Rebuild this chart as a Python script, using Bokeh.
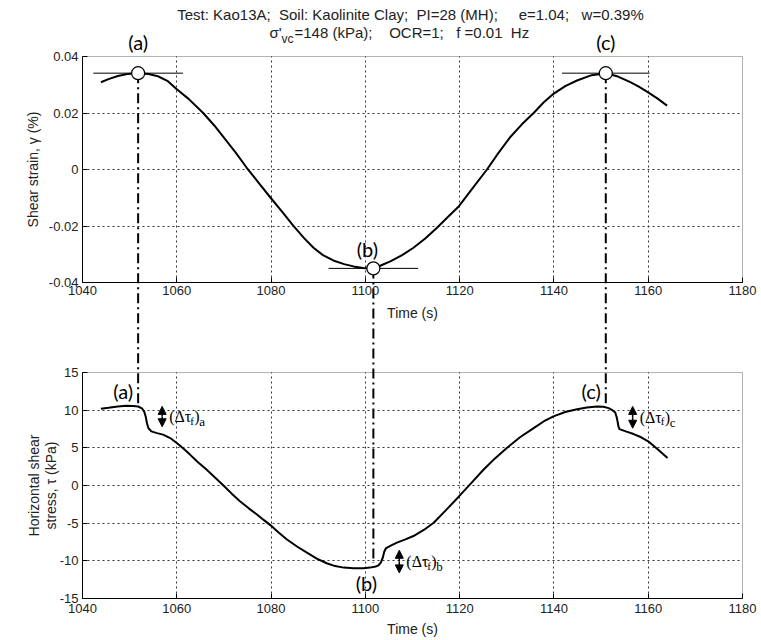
import math
from bokeh.plotting import figure
from bokeh.models import (Range1d, LinearAxis, FixedTicker, Grid, BoxAnnotation, Label,
                          Arrow, NormalHead)
from bokeh.embed import file_html
from bokeh.resources import INLINE

# ---------------- data ----------------
strain_time = [1043.9, 1045.5, 1047.5, 1049.5, 1051.8, 1054.0, 1056.0, 1058.0, 1060.0, 1062.5,
               1065.6, 1068.0, 1070.0, 1072.5, 1074.8, 1077.5, 1079.9, 1082.5, 1084.7, 1087.0,
               1089.0, 1091.0, 1093.2, 1095.5, 1097.5, 1099.5, 1101.7, 1103.5, 1105.3, 1107.8,
               1110.2, 1112.7, 1115.2, 1117.5, 1119.9, 1122.8, 1125.8, 1128.2, 1130.7, 1133.2,
               1135.7, 1137.8, 1139.9, 1142.4, 1144.9, 1148.0, 1151.0, 1153.6, 1156.2, 1158.0,
               1159.9, 1162.0, 1164.0]
strain_pct = [0.0309, 0.0320, 0.0331, 0.0338, 0.0341, 0.0338, 0.0330, 0.0314, 0.0284, 0.0250,
              0.0200, 0.0155, 0.0113, 0.0060, 0.0007, -0.0050, -0.0100, -0.0153, -0.0199, -0.0243,
              -0.0277, -0.0303, -0.0322, -0.0335, -0.0343, -0.0349, -0.0352, -0.0338, -0.0325, -0.0303,
              -0.0277, -0.0244, -0.0206, -0.0168, -0.0129, -0.0065, 0.0000, 0.0058, 0.0114, 0.0160,
              0.0200, 0.0237, 0.0268, 0.0295, 0.0315, 0.0334, 0.0341, 0.0329, 0.0309, 0.0293,
              0.0274, 0.0251, 0.0226]

stress_time = [1043.9, 1045.5, 1047.5, 1049.3, 1050.8, 1051.8, 1052.6, 1053.1, 1053.4, 1053.7,
               1054.0, 1054.6, 1055.8, 1057.1, 1058.6, 1060.0, 1061.4, 1062.8, 1064.5, 1066.3,
               1068.1, 1069.9, 1071.6, 1073.4, 1075.2, 1077.0, 1078.5, 1079.9, 1081.6, 1083.3,
               1085.5, 1087.6, 1089.7, 1091.8, 1093.6, 1095.4, 1097.5, 1099.6, 1101.0, 1102.2,
               1102.8, 1103.3, 1103.7, 1104.0, 1104.4, 1105.5, 1106.7, 1108.5, 1110.2, 1112.4,
               1114.5, 1117.2, 1119.9, 1122.5, 1125.1, 1127.5, 1130.0, 1132.8, 1135.7, 1137.8,
               1139.9, 1142.4, 1144.9, 1147.0, 1149.1, 1150.5, 1151.6, 1152.4, 1153.0, 1153.3,
               1153.5, 1153.7, 1153.9, 1155.4, 1156.9, 1158.5, 1160.0, 1162.0, 1164.1]
stress_kpa = [10.19, 10.32, 10.50, 10.58, 10.55, 10.49, 10.25, 9.80, 9.17, 8.20,
              7.60, 7.18, 6.95, 6.75, 6.30, 5.64, 4.90, 4.10, 3.10, 2.12,
              1.05, 0.00, -1.05, -2.08, -3.00, -3.84, -4.60, -5.29, -6.25, -7.14,
              -8.10, -8.92, -9.70, -10.32, -10.70, -10.90, -10.98, -10.98, -10.90, -10.75,
              -10.60, -10.20, -9.58, -8.80, -8.30, -7.95, -7.59, -7.15, -6.71, -5.90,
              -4.95, -3.20, -1.42, 0.35, 2.12, 3.60, 4.97, 6.40, 7.62, 8.50,
              9.17, 9.75, 10.13, 10.35, 10.49, 10.45, 10.27, 10.00, 9.70, 9.10,
              8.50, 7.80, 7.49, 7.15, 6.83, 6.40, 5.86, 4.80, 3.65]

event_names = ["(a)", "(b)", "(c)"]
event_time = [1051.8, 1101.7, 1151.0]
event_strain = [0.0341, -0.0350, 0.0341]
event_stress = [10.5, -10.3, 10.9]          # lower end of the dash-dot guide
bar_half_width = [9.5, 9.5, 9.3]            # half length of the horizontal bar through each point

drop_names = ["a", "b", "c"]
drop_time = [1056.9, 1107.2, 1156.7]
drop_high = [10.5, -8.6, 10.5]
drop_low = [7.8, -11.6, 7.6]

time_ticks = [1040, 1060, 1080, 1100, 1120, 1140, 1160, 1180]
strain_ticks = [-0.04, -0.02, 0.0, 0.02, 0.04]
stress_ticks = [-15, -10, -5, 0, 5, 10, 15]

NB = "\u00a0"
title_line1 = "Test: Kao13A;  Soil: Kaolinite Clay;  PI=28 (MH);     e=1.04;   w=0.39%".replace(" ", NB)
title_line2 = "=148 (kPa);    OCR=1;   f =0.01  Hz".replace(" ", NB)
x_title = "Time (s)"
strain_title = "Shear strain, γ (%)"
stress_title = ["Horizontal shear", "stress, τ (kPa)"]

# ---------------- geometry: the frame covers the whole canvas ----------------
W, H = 761, 640
PX_LEFT, PX_RIGHT = 82, 742          # where 1040 and 1180 sit
TOP_PX = (56, 282)                   # top panel: 0.04 .. -0.04
BOT_PX = (372, 598)                  # bottom panel: 15 .. -15

t0, t1 = time_ticks[0], time_ticks[-1]
g_lo, g_hi = strain_ticks[0], strain_ticks[-1]
s_lo, s_hi = stress_ticks[0], stress_ticks[-1]

sx = (t1 - t0) / (PX_RIGHT - PX_LEFT)
x_start, x_end = t0 - PX_LEFT * sx, t1 + (W - PX_RIGHT) * sx
sg = (g_hi - g_lo) / (TOP_PX[1] - TOP_PX[0])
top_end, top_start = g_hi + TOP_PX[0] * sg, g_lo - (H - TOP_PX[1]) * sg
ss = (s_hi - s_lo) / (BOT_PX[1] - BOT_PX[0])
bot_end, bot_start = s_hi + BOT_PX[0] * ss, s_lo - (H - BOT_PX[1]) * ss

def stress_to_strain_units(s):
    frac = (s - bot_start) / (bot_end - bot_start)
    return top_start + frac * (top_end - top_start)

FONT = "Liberation Sans"
TXT = "#222222"

p = figure(width=W, height=H, output_backend="svg", toolbar_location=None,
           x_range=Range1d(x_start, x_end), y_range=Range1d(bot_start, bot_end),
           x_axis_type=None, y_axis_type=None, min_border=0)
p.extra_y_ranges = {"top": Range1d(top_start, top_end)}
p.outline_line_color = None
p.background_fill_color = "white"
p.border_fill_color = "white"

def make_axis(ticks, bounds, fixed, **kw):
    ax = LinearAxis(ticker=FixedTicker(ticks=ticks), bounds=bounds, fixed_location=fixed,
                    major_label_overrides={t: f"{t:g}" for t in ticks}, **kw)
    ax.major_label_text_font = FONT
    ax.major_label_text_font_size = "13px"
    ax.major_label_text_color = TXT
    ax.major_tick_in = 5
    ax.major_tick_out = 0
    ax.minor_tick_in = 0
    ax.minor_tick_out = 0
    ax.axis_line_color = "black"
    ax.major_tick_line_color = "black"
    return ax

ax = make_axis(time_ticks, (t0, t1), s_lo)
ax.major_label_standoff = 5
p.add_layout(ax, "below")
ax = make_axis(time_ticks, (t0, t1), g_lo, y_range_name="top")
ax.major_label_standoff = 3
p.add_layout(ax, "below")
ax = make_axis(stress_ticks, (s_lo, s_hi), t0)
ax.major_label_standoff = 4
p.add_layout(ax, "left")
ax = make_axis(strain_ticks, (g_lo, g_hi), t0, y_range_name="top")
ax.major_label_standoff = 4
p.add_layout(ax, "left")

# grids (dotted)
grid_kw = dict(grid_line_color="#333333", grid_line_dash="2 3", grid_line_width=1)
p.add_layout(Grid(dimension=0, ticker=FixedTicker(ticks=time_ticks[1:-1]), y_range_name="top",
                  cross_bounds=(g_lo, g_hi), **grid_kw))
p.add_layout(Grid(dimension=0, ticker=FixedTicker(ticks=time_ticks[1:-1]),
                  cross_bounds=(s_lo, s_hi), **grid_kw))
p.add_layout(Grid(dimension=1, ticker=FixedTicker(ticks=strain_ticks[1:-1]), y_range_name="top",
                  cross_bounds=(t0, t1), **grid_kw))
p.add_layout(Grid(dimension=1, ticker=FixedTicker(ticks=stress_ticks[1:-1]),
                  cross_bounds=(t0, t1), **grid_kw))

# panel boxes
p.add_layout(BoxAnnotation(left=t0, right=t1, bottom=g_lo, top=g_hi, y_range_name="top",
                           fill_color=None, line_color="black", line_width=1, level="overlay"))
p.add_layout(BoxAnnotation(left=t0, right=t1, bottom=s_lo, top=s_hi,
                           fill_color=None, line_color="black", line_width=1, level="overlay"))

# curves
p.line(strain_time, strain_pct, y_range_name="top", line_color="black", line_width=2)
p.line(stress_time, stress_kpa, line_color="black", line_width=2)

# dash-dot guides from the strain points down to the stress curve
guide_low = [stress_to_strain_units(s) for s in event_stress]
p.segment(x0=event_time, y0=event_strain, x1=event_time, y1=guide_low, y_range_name="top",
          line_color="black", line_width=2, line_dash="10 4 2 4")

# horizontal bars and open circles at the strain points
p.segment(x0=[t - h for t, h in zip(event_time, bar_half_width)], y0=event_strain,
          x1=[t + h for t, h in zip(event_time, bar_half_width)], y1=event_strain,
          y_range_name="top", line_color="black", line_width=1)
p.scatter(event_time, event_strain, y_range_name="top", size=13, marker="circle",
          fill_color="white", line_color="black", line_width=1.2)

# event letters
LFONT = "Lato"
lab = dict(text_font=LFONT, text_font_size="20px", text_color="black")
for i, name in enumerate(event_names):
    if i == 1:
        p.add_layout(Label(x=event_time[i], y=event_strain[i], y_range_name="top", text=name,
                           x_offset=-6, y_offset=7, text_align="center", text_baseline="bottom", **lab))
        p.add_layout(Label(x=event_time[i], y=s_lo, text=name, x_offset=-7, y_offset=4,
                           text_align="center", text_baseline="bottom", **lab))
    else:
        p.add_layout(Label(x=event_time[i], y=g_hi, y_range_name="top", text=name,
                           y_offset=3, text_align="center", text_baseline="bottom", **lab))
        p.add_layout(Label(x=event_time[i], y=s_hi, text=name, x_offset=-5, y_offset=-6,
                           text_align="right", text_baseline="top", **lab))

# stress-drop double arrows and labels
SF = "Liberation Serif"
for i, sub in enumerate(drop_names):
    ymid = (drop_high[i] + drop_low[i]) / 2
    for yend in (drop_high[i], drop_low[i]):
        p.add_layout(Arrow(x_start=drop_time[i], y_start=ymid, x_end=drop_time[i], y_end=yend,
                           end=NormalHead(size=8, fill_color="black", line_color="black"),
                           line_color="black", line_width=1.5))
    p.add_layout(Label(x=drop_time[i], y=ymid, text="(Δτ", x_offset=7, y_offset=0,
                       text_baseline="middle", text_font=SF, text_font_size="16px", text_color="black"))
    p.add_layout(Label(x=drop_time[i], y=ymid, text="f", x_offset=28, y_offset=-4,
                       text_baseline="middle", text_font=SF, text_font_size="11px", text_color="black"))
    p.add_layout(Label(x=drop_time[i], y=ymid, text=")", x_offset=32, y_offset=0,
                       text_baseline="middle", text_font=SF, text_font_size="16px", text_color="black"))
    p.add_layout(Label(x=drop_time[i], y=ymid, text=sub, x_offset=37, y_offset=-5,
                       text_baseline="middle", text_font=SF, text_font_size="13px", text_color="black"))

# axis titles
tmid = (t0 + t1) / 2
ttl = dict(text_font=FONT, text_font_size="14px", text_color=TXT)
p.add_layout(Label(x=tmid, y=g_lo, y_range_name="top", text=x_title, y_offset=-30,
                   text_align="center", text_baseline="middle", **ttl))
p.add_layout(Label(x=tmid, y=s_lo, text=x_title, y_offset=-30,
                   text_align="center", text_baseline="middle", **ttl))
p.add_layout(Label(x=t0, y=(g_lo + g_hi) / 2, y_range_name="top", text=strain_title, x_offset=-50,
                   angle=math.pi / 2, text_align="center", text_baseline="middle", **ttl))
p.add_layout(Label(x=t0, y=(s_lo + s_hi) / 2, text=stress_title[0], x_offset=-49,
                   angle=math.pi / 2, text_align="center", text_baseline="middle", **ttl))
p.add_layout(Label(x=t0, y=(s_lo + s_hi) / 2, text=stress_title[1], x_offset=-32,
                   angle=math.pi / 2, text_align="center", text_baseline="middle", **ttl))

# two-line title above the top panel
hd = dict(text_font=FONT, text_font_size="15px", text_color=TXT)
p.add_layout(Label(x=tmid, y=g_hi, y_range_name="top", text=title_line1, x_offset=-2, y_offset=42,
                   text_align="center", text_baseline="middle", **hd))
p.add_layout(Label(x=t0, y=g_hi, y_range_name="top", text="σ'", x_offset=187, y_offset=24,
                   text_align="left", text_baseline="middle", **hd))
p.add_layout(Label(x=t0, y=g_hi, y_range_name="top", text="vc", x_offset=199, y_offset=18,
                   text_align="left", text_baseline="middle",
                   text_font=FONT, text_font_size="12px", text_color=TXT))
p.add_layout(Label(x=t0, y=g_hi, y_range_name="top", text=title_line2, x_offset=212, y_offset=24,
                   text_align="left", text_baseline="middle", **hd))

open("out.html", "w").write(file_html(p, INLINE))
